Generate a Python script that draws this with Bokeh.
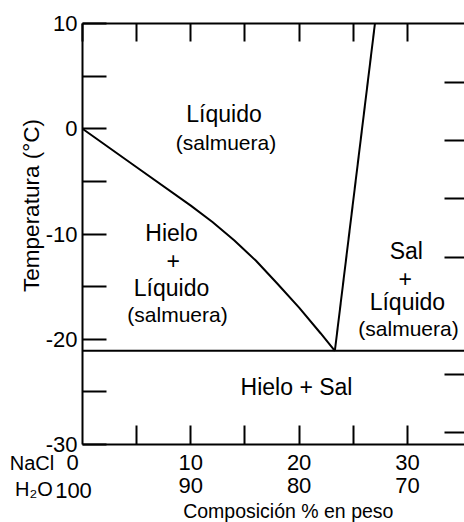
import math
from bokeh.plotting import figure
from bokeh.models import LinearAxis, FixedTicker, Range1d, Label, ColumnDataSource
from bokeh.core.properties import value
from bokeh.embed import file_html
from bokeh.resources import INLINE

FONT = "Liberation Sans"

# ---- data ----
ice_x = [0, 5, 10, 12, 14, 16, 18, 20, 22, 23.3]                               # % NaCl
ice_T = [0, -3.65, -7.3, -8.86, -10.6, -12.52, -14.72, -17.0, -19.45, -21.1]   # deg C
salt_x = [23.3, 27.0]
salt_T = [-21.1, 10.0]
eutectic_T = -21.1
comp_full = [0, 100]

y_major = [-30, -20, -10, 0, 10]
y_labels = ["-30", "-20", "-10", "0", "10"]
y_minor = [-25, -15, -5, 5]
x_major = [0, 10, 20, 30]
x_minor = [5, 15, 25]
nacl_pct = ["0", "10", "20", "30"]
h2o_pct = ["100", "90", "80", "70"]
f_ticks = [-20, -10, 10, 20, 30, 40]   # deg F (ticks on the far right side)

region_text = ["Líquido", "(salmuera)", "Hielo", "+", "Líquido", "(salmuera)",
               "Sal", "+", "Líquido", "(salmuera)", "Hielo + Sal"]
region_x = [13.07, 13.25, 8.22, 8.37, 8.22, 8.77, 29.9, 29.8, 30.0, 30.1, 19.76]
region_T = [1.45, -1.31, -9.86, -12.5, -15.1, -17.65, -11.57, -14.2, -16.5, -18.98, -24.5]
region_size = ["23px", "21px", "23px", "23px", "23px", "21px",
               "23px", "23px", "23px", "21px", "23px"]

# diagram limits and view window
t_min, t_max = -30, 10
x_start, x_end = -7.57, 35.27
t_bottom, t_top = -37.41, 12.19


def c_to_f(c):
    return c * 9 / 5 + 32


p = figure(width=464, height=522,
           x_range=Range1d(x_start, x_end), y_range=Range1d(t_bottom, t_top),
           output_backend="svg", toolbar_location=None,
           x_axis_location=None, y_axis_location=None, min_border=0)
p.min_border_left = p.min_border_right = p.min_border_top = p.min_border_bottom = 0
p.outline_line_color = None
p.xgrid.visible = False
p.ygrid.visible = False

p.extra_y_ranges = {"F": Range1d(c_to_f(t_bottom), c_to_f(t_top))}

common = dict(axis_line_color="black", axis_line_width=2,
              major_tick_line_color="black", major_tick_line_width=2,
              minor_tick_line_color="black", minor_tick_line_width=2,
              major_tick_out=0, minor_tick_out=0,
              major_label_text_font=FONT, major_label_text_color="black")

ly = LinearAxis(fixed_location=0, bounds=(t_min, t_max),
                ticker=FixedTicker(ticks=y_major, minor_ticks=y_minor),
                major_label_overrides=dict(zip(y_major, y_labels)),
                major_tick_in=24, minor_tick_in=24, major_label_standoff=5,
                major_label_text_font_size="22px", **common)
p.add_layout(ly, "left")

overrides = {xv: f"{n}\n{h}" for xv, n, h in zip(x_major[1:], nacl_pct[1:], h2o_pct[1:])}
bx = LinearAxis(fixed_location=t_min, bounds=(0, x_end),
                ticker=FixedTicker(ticks=x_major[1:], minor_ticks=x_minor),
                major_tick_in=19, minor_tick_in=19, major_label_standoff=5,
                major_label_text_font_size="22px", major_label_overrides=overrides,
                major_label_text_line_height=0.95, **common)
p.add_layout(bx, "below")

tx = LinearAxis(fixed_location=t_max, bounds=(0, x_end),
                ticker=FixedTicker(ticks=[], minor_ticks=sorted(x_major + x_minor)),
                major_tick_in=18, minor_tick_in=18, **common)
p.add_layout(tx, "above")

ry = LinearAxis(y_range_name="F", fixed_location=x_end,
                bounds=(c_to_f(t_min), c_to_f(t_max)),
                ticker=FixedTicker(ticks=[], minor_ticks=f_ticks),
                major_tick_in=20, minor_tick_in=20, **common)
ry.axis_line_color = None
p.add_layout(ry, "right")

# phase boundaries
p.line(ice_x, ice_T, line_color="black", line_width=2)
p.line(salt_x, salt_T, line_color="black", line_width=2)
p.line(comp_full, [eutectic_T, eutectic_T], line_color="black", line_width=2)

src = ColumnDataSource(dict(x=region_x, y=region_T, text=region_text, size=region_size))
p.text(x="x", y="y", text="text", source=src, text_font=value(FONT),
       text_font_size="size", text_align="center", text_baseline="middle",
       text_color="black")

lab = dict(x_units="data", y_units="data", text_font=FONT, text_color="black",
           text_align="center", text_baseline="middle")
p.add_layout(Label(x=-4.71, y=-7.29, text="Temperatura (°C)", angle=math.pi / 2,
                   text_font_size="22.5px", **lab))
p.add_layout(Label(x=-4.66, y=-31.76, text="NaCl", text_font_size="20px", **lab))
p.add_layout(Label(x=-4.48, y=-34.18, text="H₂O", text_font_size="20px", **lab))
p.add_layout(Label(x=-0.92, y=-31.71, text=nacl_pct[0], text_font_size="22px", **lab))
p.add_layout(Label(x=-0.83, y=-34.37, text=h2o_pct[0], text_font_size="22px", **lab))
p.add_layout(Label(x=19.0, y=-36.27, text="Composición % en peso",
                   text_font_size="19.5px", **lab))

open("out.html", "w").write(file_html(p, INLINE))
